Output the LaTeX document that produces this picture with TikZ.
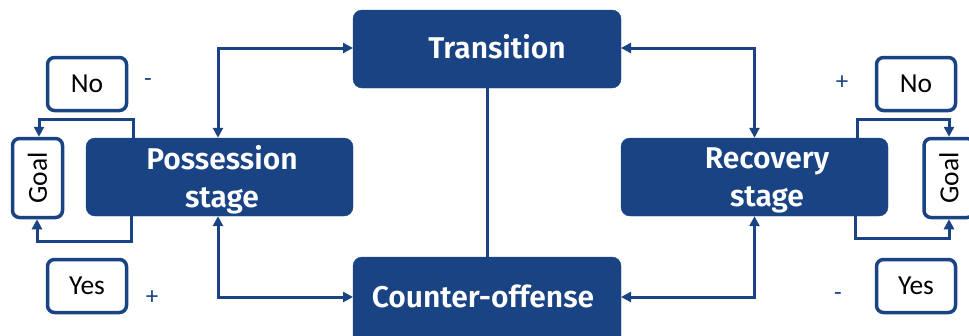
\documentclass[tikz,border=0pt]{standalone}
\usepackage{fontspec}
\setmainfont{Carlito}
\newfontfamily\headfont{Fira Sans}[UprightFont=* SemiBold]
\usetikzlibrary{arrows.meta}
\definecolor{navy}{HTML}{1A4384}
\tikzset{
  headtext/.style={text=white, font=\headfont\fontsize{30}{38}\selectfont, align=center},
  stagebox/.style={fill=navy, draw=navy, rounded corners=9pt, inner sep=0pt},
  answer/.style={draw=navy, line width=3.5pt, fill=white, rounded corners=7pt,
    font=\fontsize{27.5}{30}\selectfont, inner sep=0pt},
  link/.style={draw=navy, line width=3pt},
  tip/.style={-{Triangle[length=10pt,width=10pt]}},
  tips/.style={{Triangle[length=10pt,width=10pt]}-{Triangle[length=10pt,width=10pt]}},
  sign/.style={text=navy, font=\fontsize{25}{25}\selectfont, inner sep=0pt}
}
\begin{document}
\begin{tikzpicture}[x=1pt,y=-1pt]
\useasboundingbox (0,0) rectangle (969,335);
\clip (0,0) rectangle (969,335);

% central stages
\path[stagebox] (353,10) rectangle (621,88);
\node[headtext] (trans) at (497,47) {Transition};
\coordinate (transL) at (353,48);
\coordinate (transR) at (621,48);
\coordinate (transB) at (487,88);

\path[stagebox] (353,257) rectangle (621,345);
\node[headtext] (counter) at (483,296) {Counter-offense};
\coordinate (counterL) at (353,297);
\coordinate (counterR) at (621,297);
\coordinate (counterT) at (487,257);

% side stages
\node[stagebox, minimum width=267pt, minimum height=78pt] (poss) at (219.5,177) {};
\node[headtext] (posstext) at (222,180) {Possession\\stage};
\node[stagebox, minimum width=267pt, minimum height=78pt] (recov) at (754.5,177) {};
\node[headtext] (recovtext) at (767,180) {Recovery\\stage};

% goal boxes
\node[answer, minimum width=50pt, minimum height=79pt] (goalL) at (37.5,178) {\rotatebox{90}{Goal}};
\node[answer, minimum width=50pt, minimum height=79pt] (goalR) at (949,178) {\rotatebox{90}{Goal}};

% outcome boxes
\node[answer, minimum width=79pt, minimum height=53pt] (noL) at (87,84) {No};
\node[answer, minimum width=79pt, minimum height=53pt] (yesL) at (87,286) {Yes};
\node[answer, minimum width=79pt, minimum height=53pt] (noR) at (916,84) {No};
\node[answer, minimum width=79pt, minimum height=53pt] (yesR) at (916,286) {Yes};

% signs
\node[sign] (mL) at (148,83) {-};
\node[sign] (pL) at (152,298) {+};
\node[sign] (pR) at (842,83) {+};
\node[sign] (mR) at (838,297) {-};

% connectors between stages
\draw[link, tips] (poss.north -| 218,0) |- (transL);
\draw[link, tips] (poss.south -| 218,0) |- (counterL);
\draw[link, tips] (transR) -| (recov.north);
\draw[link, tips] (counterR) -| (recov.south);
\draw[link] (transB) -- (counterT);

% goal loops
\draw[link, tip] (poss.north -| 133,0) |- (39,119) -- (goalL.north -| 39,0);
\draw[link, tip] (poss.south -| 131,0) |- (37,241) -- (goalL.south -| 37,0);
\draw[link, tip] (recov.north -| 857,0) |- (949,119) -- (goalR.north);
\draw[link, tip] (recov.south -| 855,0) |- (949,238) -- (goalR.south);
\end{tikzpicture}
\end{document}
